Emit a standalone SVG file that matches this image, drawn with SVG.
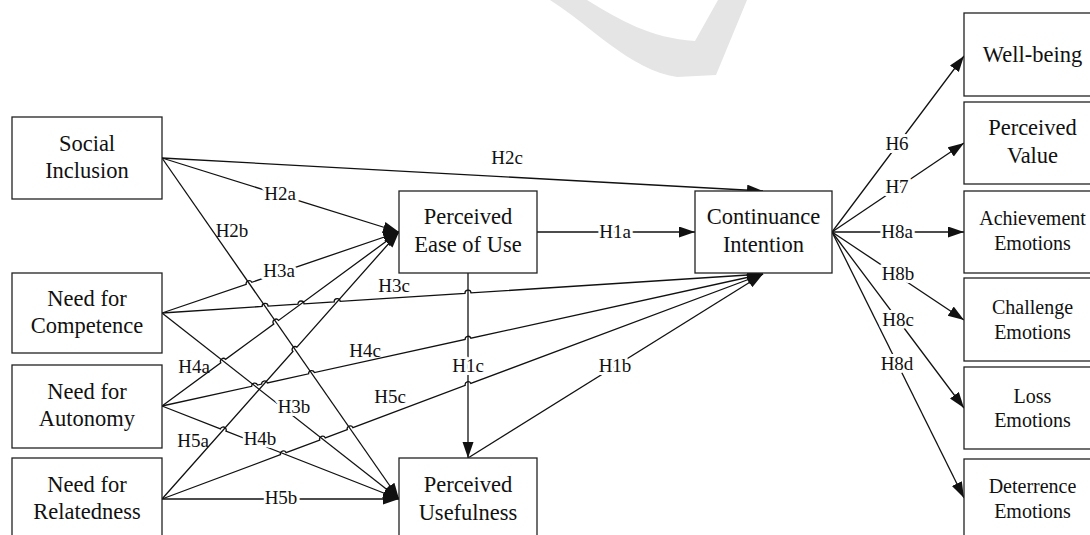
<svg xmlns="http://www.w3.org/2000/svg" width="1090" height="535" viewBox="0 0 1090 535">
<style>
.box{fill:#fff;stroke:#222;stroke-width:1.3}
.t{font-family:'Liberation Serif','Times New Roman','DejaVu Serif',serif;font-size:22.5px;text-anchor:middle;fill:#111}
.e{font-size:20px}
.c{fill:none;stroke:#111;stroke-width:1.3}
.lbl{font-family:'Liberation Serif','Times New Roman','DejaVu Serif',serif;font-size:19px;text-anchor:middle;fill:#111}
.ko{paint-order:stroke;stroke:#fff;stroke-width:6px;stroke-linejoin:round}
</style>
<defs>
<marker id="ah" markerUnits="userSpaceOnUse" markerWidth="18" markerHeight="12" refX="16" refY="5.5" orient="auto">
<path d="M0,0 L16,5.5 L0,11 Z" fill="#111"/>
</marker>
</defs>
<rect width="1090" height="535" fill="#fff"/>
<path id="watermark" d="M550,0 C590,25 630,70 677,77 L716,75 L747,0 L718,0 L695,41 C650,38 620,20 587,0 Z" fill="#e5e5e5"/>
<g id="connectors">
<path class="c" marker-end="url(#ah)" d="M162,158 L763,191"/>
<path class="c" marker-end="url(#ah)" d="M162,158 L399,232"/>
<path class="c" marker-end="url(#ah)" d="M162,158 L399,499"/>
<path class="c" marker-end="url(#ah)" d="M162,313 L246.2,284.3 A3,3 0 0 1 251.8,282.3 L399,232"/>
<path class="c" marker-end="url(#ah)" d="M162,313 L262.1,306.5 A3,3 0 0 1 268.1,306.1 L298,304.2 A3,3 0 0 1 304,303.8 L334.2,301.8 A3,3 0 0 1 340.2,301.4 L465,293.3 A3,3 0 0 1 471,292.9 L763,274"/>
<path class="c" marker-end="url(#ah)" d="M162,313 L399,499"/>
<path class="c" marker-end="url(#ah)" d="M162,406 L220.8,362.8 A3,3 0 0 1 225.6,359.3 L273.7,324 A3,3 0 0 1 278.5,320.4 L399,232"/>
<path class="c" marker-end="url(#ah)" d="M162,406 L251.7,386.3 A3,3 0 0 1 257.5,385.1 L261.6,384.1 A3,3 0 0 1 267.4,382.9 L308.6,373.8 A3,3 0 0 1 314.4,372.6 L465.1,339.4 A3,3 0 0 1 470.9,338.2 L763,274"/>
<path class="c" marker-end="url(#ah)" d="M162,406 L220.4,428.9 A3,3 0 0 1 226,431.1 L399,499"/>
<path class="c" marker-end="url(#ah)" d="M162,499 L292.9,351.5 A3,3 0 0 1 296.9,347.1 L399,232"/>
<path class="c" marker-end="url(#ah)" d="M162,499 L280.5,454.7 A3,3 0 0 1 286.1,452.6 L319.7,440 A3,3 0 0 1 325.3,437.9 L347.3,429.7 A3,3 0 0 1 352.9,427.6 L465.2,385.4 A3,3 0 0 1 470.8,383.4 L763,274"/>
<path class="c" marker-end="url(#ah)" d="M162,499 L399,499"/>
<path class="c" marker-end="url(#ah)" d="M537,232 L695,232"/>
<path class="c" marker-end="url(#ah)" d="M468,273 L468,458"/>
<path class="c" marker-end="url(#ah)" d="M468,458 L763,274"/>
<path class="c" marker-end="url(#ah)" d="M832,232 L964,56"/>
<path class="c" marker-end="url(#ah)" d="M832,232 L964,143"/>
<path class="c" marker-end="url(#ah)" d="M832,232 L964,232"/>
<path class="c" marker-end="url(#ah)" d="M832,232 L964,320"/>
<path class="c" marker-end="url(#ah)" d="M832,232 L964,408"/>
<path class="c" marker-end="url(#ah)" d="M832,232 L964,498"/>
<text class="lbl" x="507" y="164">H2c</text>
<text class="lbl ko" x="280" y="200">H2a</text>
<text class="lbl" x="232" y="237">H2b</text>
<text class="lbl ko" x="279" y="277">H3a</text>
<text class="lbl" x="394" y="292">H3c</text>
<text class="lbl ko" x="294" y="413">H3b</text>
<text class="lbl" x="194" y="373">H4a</text>
<text class="lbl" x="365" y="357">H4c</text>
<text class="lbl ko" x="260" y="445">H4b</text>
<text class="lbl" x="193" y="447">H5a</text>
<text class="lbl" x="390" y="403">H5c</text>
<text class="lbl ko" x="281" y="504">H5b</text>
<text class="lbl ko" x="615" y="238">H1a</text>
<text class="lbl ko" x="468" y="372">H1c</text>
<text class="lbl ko" x="615" y="372">H1b</text>
<text class="lbl ko" x="897" y="150">H6</text>
<text class="lbl ko" x="897" y="193">H7</text>
<text class="lbl ko" x="897" y="238">H8a</text>
<text class="lbl ko" x="898" y="280">H8b</text>
<text class="lbl ko" x="898" y="326">H8c</text>
<text class="lbl ko" x="897" y="370">H8d</text>
</g>
<g id="social-inclusion"><rect class="box" x="12" y="117" width="150" height="82"/><text class="t" x="87" y="151">Social</text><text class="t" x="87" y="178">Inclusion</text></g>
<g id="need-competence"><rect class="box" x="12" y="273" width="150" height="80"/><text class="t" x="87" y="306">Need for</text><text class="t" x="87" y="333">Competence</text></g>
<g id="need-autonomy"><rect class="box" x="12" y="365" width="150" height="83"/><text class="t" x="87" y="399">Need for</text><text class="t" x="87" y="426">Autonomy</text></g>
<g id="need-relatedness"><rect class="box" x="12" y="458" width="150" height="83"/><text class="t" x="87" y="492">Need for</text><text class="t" x="87" y="519">Relatedness</text></g>
<g id="peou"><rect class="box" x="399" y="191" width="138" height="82"/><text class="t" x="468" y="224">Perceived</text><text class="t" x="468" y="252">Ease of Use</text></g>
<g id="continuance"><rect class="box" x="695" y="191" width="137" height="82"/><text class="t" x="763.5" y="224">Continuance</text><text class="t" x="763.5" y="252">Intention</text></g>
<g id="pu"><rect class="box" x="399" y="458" width="138" height="83"/><text class="t" x="468" y="492">Perceived</text><text class="t" x="468" y="520">Usefulness</text></g>
<g id="well-being"><rect class="box" x="964" y="13" width="137" height="83"/><text class="t" x="1032.5" y="62">Well-being</text></g>
<g id="perceived-value"><rect class="box" x="964" y="102" width="137" height="82"/><text class="t" x="1032.5" y="135">Perceived</text><text class="t" x="1032.5" y="163">Value</text></g>
<g id="achievement"><rect class="box" x="964" y="191" width="137" height="82"/><text class="t e" x="1032.5" y="225">Achievement</text><text class="t e" x="1032.5" y="250">Emotions</text></g>
<g id="challenge"><rect class="box" x="964" y="278" width="137" height="83"/><text class="t e" x="1032.5" y="314">Challenge</text><text class="t e" x="1032.5" y="339">Emotions</text></g>
<g id="loss"><rect class="box" x="964" y="367" width="137" height="82"/><text class="t e" x="1032.5" y="403">Loss</text><text class="t e" x="1032.5" y="427">Emotions</text></g>
<g id="deterrence"><rect class="box" x="964" y="459" width="137" height="83"/><text class="t e" x="1032.5" y="493">Deterrence</text><text class="t e" x="1032.5" y="518">Emotions</text></g>
</svg>
